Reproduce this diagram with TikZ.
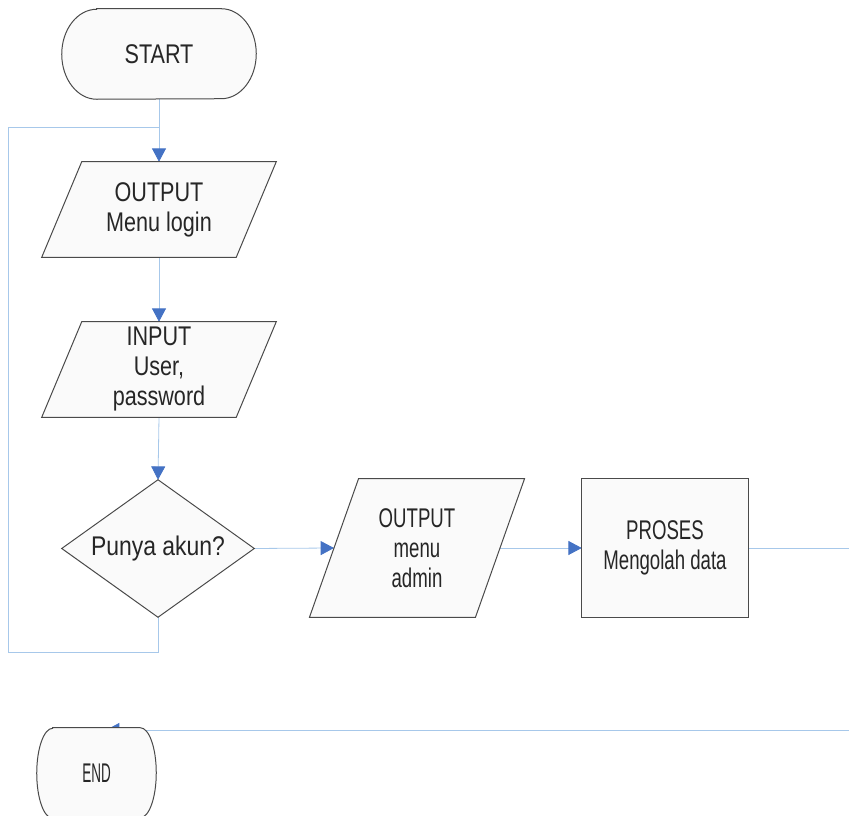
\documentclass[tikz,border=0pt]{standalone}
\usepackage{fontspec}
\setmainfont{Liberation Sans}
\newfontfamily\fS{Liberation Sans}[FakeStretch=0.8]
\newfontfamily\fD{Liberation Sans}[FakeStretch=0.85]
\newfontfamily\fR{Liberation Sans}[FakeStretch=0.69]
\newfontfamily\fE{Liberation Sans}[FakeStretch=0.5]
\usetikzlibrary{arrows.meta}
\pgfdeclarelayer{bg}
\pgfdeclarelayer{mid}
\pgfsetlayers{bg,mid,main}
\definecolor{linec}{HTML}{A7C8EA}
\definecolor{arrowc}{HTML}{4472C4}
\definecolor{edgec}{HTML}{4A4A4A}
\definecolor{fillc}{HTML}{FAFAFA}
\newcommand\termpath[3]{%
  \draw[box] ([xshift=#2]#1.north west) -- ([xshift=-#2]#1.north east)
    arc[start angle=90,end angle=-90,x radius=#2,y radius=#3]
    -- ([xshift=#2]#1.south west)
    arc[start angle=270,end angle=90,x radius=#2,y radius=#3] -- cycle;}
\newcommand\parapath[2]{%
  \draw[box] ([xshift=#2]#1.north west) -- ([xshift=#2]#1.north east)
    -- ([xshift=-#2]#1.south east) -- ([xshift=-#2]#1.south west) -- cycle;}
\begin{document}
\begin{tikzpicture}[x=0.75pt,y=0.75pt,
  txt/.style={align=center, font=\fontsize{20.25}{22.5}\selectfont, inner sep=0pt, text=black!85},
  box/.style={draw=edgec, line width=0.75pt, fill=fillc},
  conn/.style={draw=linec, line width=0.6pt},
  flow/.style={conn, -{Triangle[length=10pt,width=10.5pt,color=arrowc]}}
]
\useasboundingbox (0,0) rectangle (849,816);

\node[txt, minimum width=145.5pt, minimum height=67.5pt] (start) at (159,762) {\fS START};
\node[txt, minimum width=145.5pt, minimum height=71.25pt] (login) at (159,606.5) {\fS OUTPUT\\\fS Menu login};
\node[txt, minimum width=145.5pt, minimum height=71.25pt] (input) at (159,446.5) {\fS INPUT\\\fS User,\\\fS password};
\node[txt, minimum width=144pt, minimum height=102.75pt] (dec) at (158,267.5) {\fD Punya akun?};
\node[txt, minimum width=124.1pt, minimum height=103.5pt] (admin) at (417,268) {\fR OUTPUT\\\fR menu\\\fR admin};
\node[txt, minimum width=124.5pt, minimum height=103.5pt] (proses) at (665,268) {\fR PROSES\\\fR Mengolah data};
\node[txt, minimum width=89.25pt, minimum height=67.5pt] (end) at (96.5,43) {\fE END};

\coordinate (loopB) at (158,164);
\coordinate (loopL) at (8,164);
\coordinate (loopT) at (8,689);
\coordinate (loopJ) at (159,689);
\coordinate (rightT) at (870,268);
\coordinate (rightB) at (870,86);
\coordinate (endIn) at (106,86);

\begin{pgfonlayer}{mid}
  \termpath{start}{26.25pt}{33.75pt}
  \termpath{end}{12pt}{33.75pt}
  \parapath{login}{15pt}
  \parapath{input}{15pt}
  \parapath{admin}{18.4pt}
  \draw[box] (dec.north) -- (dec.east) -- (dec.south) -- (dec.west) -- cycle;
  \draw[box] (proses.south west) rectangle (proses.north east);
\end{pgfonlayer}

\begin{pgfonlayer}{bg}
  \draw[flow] (start.south) -- (login.north);
  \draw[flow] (login.south) -- (input.north);
  \draw[flow] (input.south) -- (dec.north);
  \draw[flow] (dec.east) -- (admin.west);
  \draw[flow] (admin.east) -- (proses.west);
  \draw[conn] (dec.south) -- (loopB) -- (loopL) -- (loopT) -- (loopJ);
  \draw[flow] (proses.east) -- (rightT) -- (rightB) -- (endIn);
\end{pgfonlayer}
\end{tikzpicture}
\end{document}
